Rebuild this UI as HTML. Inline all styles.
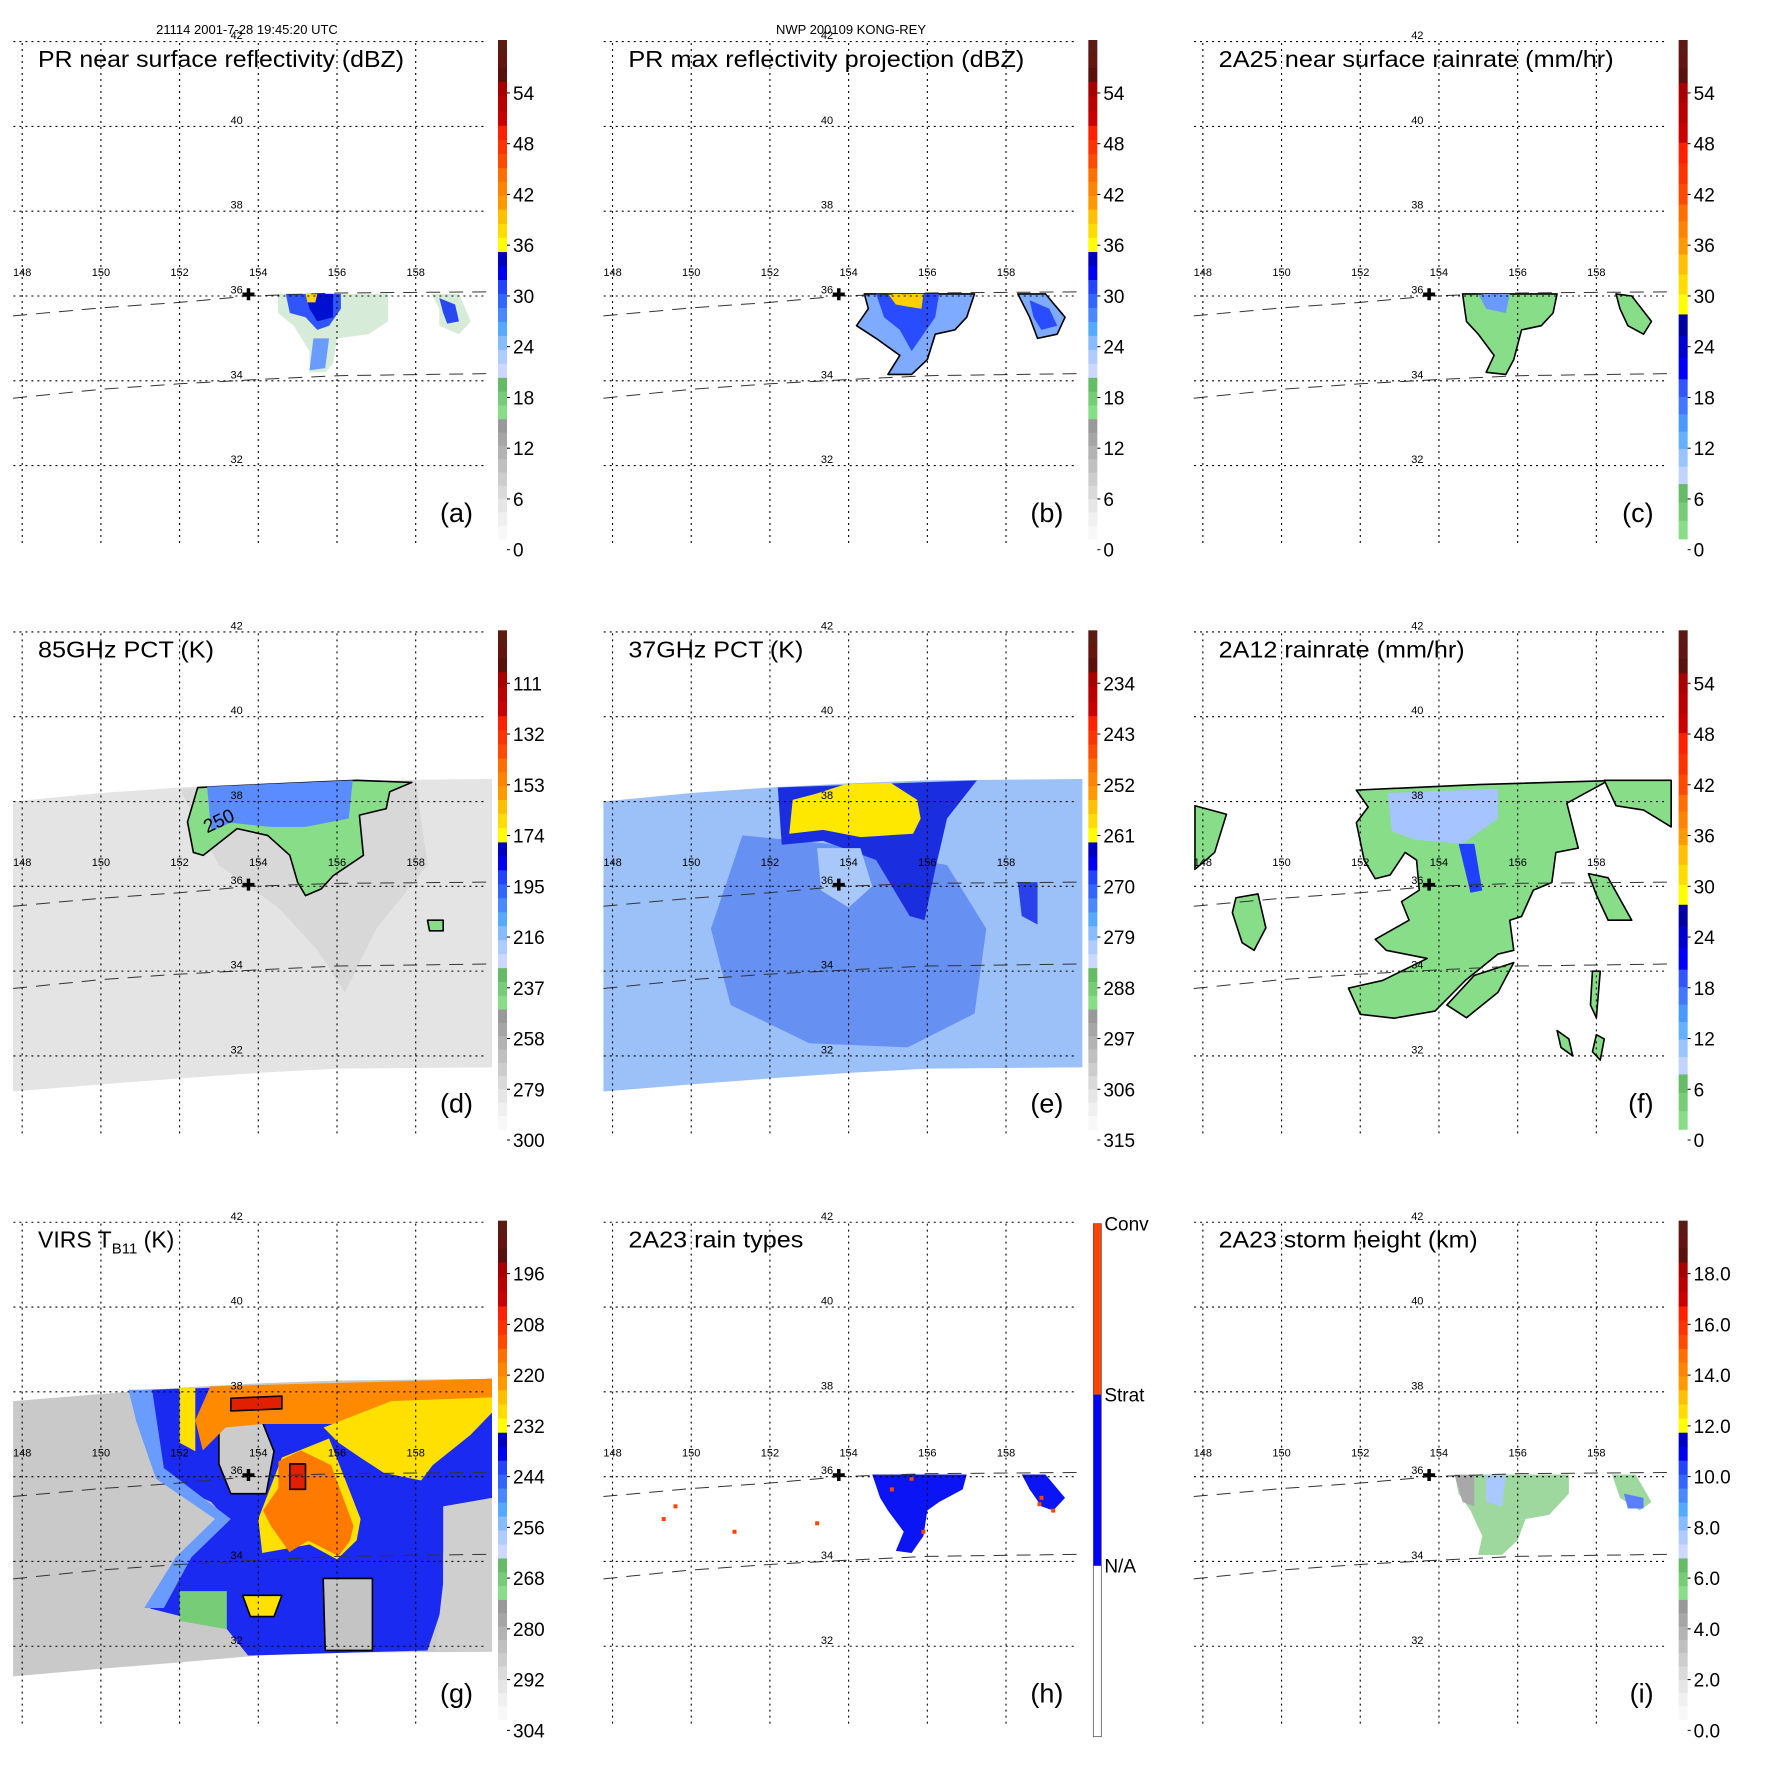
<!DOCTYPE html>
<html><head><meta charset="utf-8"><style>
html,body{margin:0;padding:0;background:#fff;}
svg{display:block;font-family:"Liberation Sans",Arial,sans-serif;}
</style></head>
<body>
<svg id="fig" xmlns="http://www.w3.org/2000/svg" width="1771" height="1771" viewBox="0 0 1771 1771">
<rect x="0" y="0" width="1771" height="1771" fill="#fff"/>
<text x="247" y="34" font-size="13" text-anchor="middle">21114 2001-7-28 19:45:20 UTC</text>
<text x="851" y="34" font-size="13" text-anchor="middle">NWP 200109 KONG-REY</text>
</svg>
<script>
// ---------- axis data ----------
const lonTicks = [148,150,152,154,156,158];
const latTicks = [32,34,36,38,40,42];
const cbarLabelsA = ["0","6","12","18","24","30","36","42","48","54"];
const cbarLabelsD = ["300","279","258","237","216","195","174","153","132","111"];
const cbarLabelsE = ["315","306","297","288","279","270","261","252","243","234"];
const cbarLabelsG = ["304","292","280","268","256","244","232","220","208","196"];
const cbarLabelsI = ["0.0","2.0","4.0","6.0","8.0","10.0","12.0","14.0","16.0","18.0"];
const rainTypeLabels = ["Conv","Strat","N/A"];
const stormCenter = [153.75,36.04];
const swathTopPR = [[147.77,35.53],[150,35.72],[152,35.85],[153.8,36.0],[156,36.07],[159.94,36.1]];
const swathBotPR = [[147.77,33.59],[150,33.8],[152,33.93],[154,34.03],[156,34.12],[159.94,34.17]];
const swathTMI = [[147.77,38.0],[150,38.2],[152,38.33],[154,38.43],[156,38.5],[159.94,38.53],[159.94,31.73],[156,31.7],[154,31.6],[152,31.47],[150,31.33],[147.77,31.16]];
const swathVIRS = [[147.77,37.78],[150,37.95],[152,38.1],[154,38.2],[156,38.27],[159.94,38.31],[159.94,31.87],[156,31.85],[154,31.78],[152,31.62],[150,31.47],[147.77,31.29]];

// ---------- feature data (lon/lat polygons) ----------
const aOuter = [[154.5,36.05],[157.3,36.05],[157.3,35.4],[156.8,35.1],[156.0,35.0],[155.9,34.4],[155.7,34.2],[155.3,34.2],[155.3,34.7],[154.9,35.3],[154.5,35.6]];
const aCore = [[154.7,36.05],[156.1,36.05],[156.1,35.7],[155.8,35.3],[155.5,35.2],[155.2,35.5],[154.8,35.6]];
const aDark = [[155.2,36.05],[155.9,36.05],[155.9,35.5],[155.5,35.4],[155.3,35.7]];
const aTail = [[155.4,35.0],[155.8,35.0],[155.7,34.3],[155.3,34.25]];
const aYellow = [[155.2,36.05],[155.5,36.05],[155.45,35.85],[155.25,35.85]];
const aOuter2 = [[158.4,36.05],[159.1,36.05],[159.4,35.4],[159.1,35.1],[158.6,35.3],[158.6,35.7]];
const aCore2 = [[158.6,35.95],[159.0,35.8],[159.1,35.4],[158.8,35.35],[158.7,35.6]];

const bOuter = [[154.4,36.05],[157.2,36.05],[157.0,35.5],[156.7,35.2],[156.2,35.1],[156.0,34.5],[155.6,34.15],[155.0,34.15],[155.3,34.6],[154.7,35.0],[154.2,35.3],[154.5,35.7]];
const bCore = [[154.7,36.05],[156.3,36.05],[156.2,35.5],[155.9,35.1],[155.6,34.7],[155.3,35.2],[154.9,35.5]];
const bYellow = [[155.0,36.05],[155.9,36.05],[155.85,35.7],[155.5,35.75],[155.2,35.8]];
const bOuter2 = [[158.3,36.05],[159.0,36.05],[159.5,35.5],[159.3,35.1],[158.8,35.0],[158.6,35.5]];
const bCore2 = [[158.6,35.9],[159.1,35.7],[159.3,35.3],[158.9,35.2],[158.7,35.5]];

const cOuter = [[154.6,36.05],[157.0,36.05],[156.9,35.6],[156.6,35.3],[156.1,35.2],[155.9,34.5],[155.7,34.15],[155.2,34.2],[155.4,34.6],[155.0,35.1],[154.7,35.4]];
const cBlue = [[155.0,36.05],[155.8,36.05],[155.7,35.6],[155.2,35.7]];
const cOuter2 = [[158.5,36.05],[158.9,36.0],[159.4,35.4],[159.2,35.1],[158.8,35.3],[158.6,35.7]];

const dStormGray = [[152.0,38.3],[158.0,38.5],[158.3,36.5],[157.0,35.0],[156.2,33.5],[155.5,34.5],[154.5,35.5],[153.0,36.5]];
const dGreen = [[152.46,38.33],[156.5,38.5],[157.9,38.45],[157.34,38.23],[157.25,37.83],[156.57,37.68],[156.67,36.73],[155.9,36.25],[155.6,35.94],[155.2,35.78],[155.0,36.1],[154.8,36.73],[154.24,37.2],[153.46,37.36],[152.6,36.73],[152.35,36.8],[152.2,37.52]];
const dBlue = [[152.7,38.35],[156.4,38.5],[156.3,37.6],[155.2,37.4],[154.3,37.4],[153.3,37.5],[152.8,37.3]];
const dBlob = [[158.3,35.2],[158.7,35.2],[158.7,34.95],[158.35,34.95]];

const eMid = [[151.3,37.2],[153.5,37.0],[156.5,36.5],[157.5,35.0],[157.2,33.0],[155.5,32.2],[153.0,32.3],[151.0,33.2],[150.5,35.0]];
const eDark = [[152.2,38.33],[157.26,38.5],[156.5,37.6],[156.2,36.4],[155.93,35.2],[155.55,35.3],[154.7,36.62],[153.35,37.07],[152.3,36.98]];
const eYellow = [[152.49,37.24],[152.58,38.04],[153.16,38.18],[153.9,38.4],[155.07,38.44],[155.74,38.04],[155.83,37.6],[155.64,37.24],[154.3,37.16],[153.35,37.33]];
const eEye = [[153.2,36.9],[154.3,36.9],[154.6,36.0],[154.0,35.5],[153.3,35.9]];
const eBlob = [[158.3,36.1],[158.8,36.1],[158.8,35.1],[158.4,35.3]];

const fMain = [[151.9,38.27],[155.0,38.4],[158.3,38.49],[157.25,37.96],[157.54,36.9],[156.97,36.8],[156.87,36.09],[156.4,35.91],[156.1,35.29],[155.8,35.2],[155.9,34.49],[155.5,34.4],[154.67,33.78],[153.9,33.06],[152.86,32.89],[152.0,32.98],[151.7,33.6],[152.57,33.78],[153.7,34.3],[152.66,34.49],[152.38,34.75],[153.24,35.2],[153.05,35.64],[153.5,35.91],[153.43,36.62],[153.14,36.8],[152.76,36.27],[152.38,36.18],[152.1,36.62],[151.9,37.5],[152.2,37.87]];
const fLeft = [[148.84,35.73],[149.4,35.82],[149.6,35.02],[149.3,34.49],[149.0,34.67],[148.75,35.38]];
const fTopLeft = [[147.8,37.9],[148.6,37.7],[148.3,36.8],[147.8,36.4]];
const fRight = [[157.8,36.3],[158.3,36.2],[158.9,35.2],[158.3,35.2],[158.0,35.8]];
const fTopRight = [[158.2,38.5],[159.9,38.5],[159.9,37.4],[159.2,37.8],[158.5,37.9]];
const fBlue = [[152.7,38.2],[155.5,38.3],[155.5,37.6],[154.6,37.0],[153.4,37.1],[152.8,37.3]];
const fStreak = [[154.5,37.0],[154.9,37.0],[155.1,35.9],[154.8,35.85]];
const fArm = [[154.9,33.9],[155.9,34.2],[155.5,33.5],[154.7,32.9],[154.2,33.2]];
const fStreakS1 = [[157.9,34.0],[158.1,34.0],[158.0,32.9],[157.85,33.2]];
const fStreakS2 = [[157.0,32.6],[157.3,32.4],[157.4,32.0],[157.1,32.2]];
const fStreakS3 = [[158.0,32.5],[158.2,32.4],[158.1,31.9],[157.9,32.1]];

const gColor = [[150.87,38.04],[159.94,38.31],[159.94,35.5],[159.4,35.4],[158.7,34.2],[158.7,33.0],[158.3,31.9],[153.74,31.78],[153.17,32.44],[151.25,32.89],[152.0,34.13],[153.17,35.02],[152.8,35.4],[151.64,35.91],[151.1,37.3]];
const gFringe = [[150.7,38.05],[151.3,38.05],[151.6,36.2],[153.3,35.0],[152.3,34.1],[151.6,32.9],[151.1,32.9],[151.9,34.1],[152.9,35.0],[151.4,35.95],[150.9,37.3]];
const gHole = [[153.0,37.2],[154.1,37.3],[154.4,36.6],[154.2,35.6],[153.3,35.6],[153.0,36.3]];
const gGrayBR = [[155.65,33.6],[156.9,33.6],[156.9,31.9],[155.7,31.9]];
const gGrayBR2 = [[158.7,35.3],[159.94,35.5],[159.94,31.9],[158.5,31.9],[158.7,33.5]];
const gOrange = [[152.78,38.13],[159.94,38.31],[159.94,37.87],[157.95,37.69],[156.04,37.24],[154.89,37.24],[154.12,37.24],[153.17,37.16],[152.59,36.62],[152.4,37.33]];
const gYellowR = [[157.38,37.78],[159.94,37.87],[159.94,37.51],[159.39,36.98],[158.43,36.27],[158.14,35.91],[157.19,36.09],[156.61,36.44],[156.04,36.8],[155.66,37.16]];
const gYellowC = [[154.6,36.45],[155.8,36.9],[156.6,35.0],[156.5,34.5],[156.0,34.05],[155.3,34.4],[154.1,34.2],[154.0,35.0]];
const gOrangeC = [[154.51,36.36],[155.08,36.62],[155.85,36.27],[156.42,34.84],[156.33,34.49],[156.04,34.13],[155.27,34.49],[154.79,34.22],[154.32,34.84],[154.12,35.2],[154.51,35.73]];
const gRed1 = [[153.3,37.85],[154.6,37.9],[154.6,37.6],[153.3,37.55]];
const gRed2 = [[154.8,36.3],[155.2,36.3],[155.2,35.7],[154.8,35.7]];
const gYellowS = [[152.0,38.1],[152.4,38.1],[152.4,36.6],[152.0,36.8]];
const gYellowB = [[153.6,33.2],[154.6,33.2],[154.4,32.7],[153.8,32.7]];
const gGreen = [[152.0,33.3],[153.2,33.3],[153.2,32.4],[152.0,32.6]];

const hStrat = [[154.6,36.05],[157.0,36.05],[156.9,35.7],[156.3,35.4],[156.0,35.2],[155.9,34.6],[155.6,34.2],[155.2,34.25],[155.4,34.7],[155.0,35.2],[154.8,35.5]];
const hStrat2 = [[158.4,36.05],[159.0,36.05],[159.5,35.5],[159.2,35.2],[158.9,35.3],[158.6,35.7]];
const hConvDots = [[155.6,35.95],[155.1,35.7],[155.9,34.7],[158.9,35.5],[158.85,35.35],[149.6,35.3],[149.3,35.0],[151.1,34.7],[153.2,34.9],[159.2,35.2]];

const iOuter = [[154.4,36.05],[157.3,36.05],[157.3,35.6],[156.8,35.1],[156.2,35.0],[156.0,34.5],[155.6,34.15],[155.0,34.15],[155.1,34.6],[154.8,35.2],[154.5,35.6]];
const iGray = [[154.4,36.05],[154.9,36.05],[154.9,35.3],[154.6,35.4]];
const iBlue = [[155.2,36.05],[155.7,36.05],[155.6,35.3],[155.2,35.4]];
const iOuter2 = [[158.4,36.05],[159.0,36.05],[159.4,35.4],[159.1,35.2],[158.6,35.5]];
const iBlue2 = [[158.7,35.6],[159.2,35.5],[159.2,35.25],[158.8,35.25]];

// ---------- scales ----------
const SVGNS = "http://www.w3.org/2000/svg";
const PANEL = 590.33;
function X(lon){ return 22.2 + (lon-148)*39.35; }
function Y(lat){ return 465.6 - (lat-32)*42.4; }
function pts(arr){ return arr.map(p => X(p[0]).toFixed(1)+","+Y(p[1]).toFixed(1)).join(" "); }
function mk(tag, parent){ const e=document.createElementNS(SVGNS,tag); parent.appendChild(e); return e; }
function poly(g, arr, fill, stroke, name){
  const p = mk("polygon", g);
  p.setAttribute("points", pts(arr));
  p.setAttribute("fill", fill);
  if (stroke){ p.setAttribute("stroke", stroke); p.setAttribute("stroke-width", "1.6"); p.setAttribute("stroke-linejoin","round"); }
  
  
  return p;
}
function line(g, arr, dash, name){
  const p = mk("polyline", g);
  p.setAttribute("points", pts(arr));
  p.setAttribute("fill","none"); p.setAttribute("stroke","#333"); p.setAttribute("stroke-width","1");
  p.setAttribute("stroke-dasharray", dash);
  
  
}

const bandsStd = [[0,0.084,["#5c1a12","#651510","#5a100c"]],[0.084,0.172,["#a80000","#b80000","#c80000"]],[0.172,0.257,["#ff2000","#ff3300","#ff4a00"]],[0.257,0.34,["#ff7000","#ff8500","#ff9900"]],[0.34,0.425,["#ffc000","#ffdd00","#ffff00"]],[0.425,0.677,["#0000c0","#0000f0","#2244ff","#3366ff","#4a88ff","#55aaff","#88bbff","#b0ccff","#ccd8ff"]],[0.677,0.76,["#66bb66","#77cc77","#88dd88"]],[0.76,1,["#999","#a6a6a6","#b3b3b3","#c0c0c0","#cdcdcd","#dadada","#e6e6e6","#f0f0f0","#f8f8f8"]]];
const bandsRain = [[0,0.086,["#5c1a12","#651510","#5a100c"]],[0.086,0.206,["#a80000","#b80000","#c80000"]],[0.206,0.33,["#ff2000","#ff3300","#ff4a00"]],[0.33,0.43,["#ff7000","#ff8500","#ff9900"]],[0.43,0.55,["#ffc000","#ffdd00","#ffff00"]],[0.55,0.68,["#0000a0","#0000d0","#0000ff"]],[0.68,0.89,["#3355ff","#4477ff","#4a99ff","#66b0ff","#99c4ff","#c0d4ff"]],[0.89,1,["#66bb66","#77cc77","#88dd88"]]];

function colorbar(g, bands, labels, pid){
  const bx=498, bw=9, top=40, bot=539;
  const cb = mk("g", g);
  
  
  bands.forEach(b=>{
    const n=b[2].length, h=(b[1]-b[0])*(bot-top);
    b[2].forEach((c,i)=>{
      const r=mk("rect",cb);
      r.setAttribute("x",bx); r.setAttribute("y",(top+b[0]*(bot-top)+i*h/n).toFixed(2));
      r.setAttribute("width",bw); r.setAttribute("height",(h/n+0.4).toFixed(2)); r.setAttribute("fill",c);
    });
  });
  labels.forEach((t,k)=>{
    const yy = 549.7 - k*50.75;
    const tk=mk("line",cb); tk.setAttribute("x1",bx+bw); tk.setAttribute("x2",bx+bw+3); tk.setAttribute("y1",yy); tk.setAttribute("y2",yy); tk.setAttribute("stroke","#000");
    const tx=mk("text",cb); tx.setAttribute("x",513); tx.setAttribute("y",yy+7); tx.setAttribute("font-size","19"); tx.textContent=t;
    
    
  });
}
function typebar(g){
  const cb=mk("g",g);
  
  
  const top=43, step=171, cols=["#ff4400","#0000ff","#ffffff"];
  cols.forEach((c,i)=>{ const r=mk("rect",cb); r.setAttribute("x",503); r.setAttribute("y",top+i*step); r.setAttribute("width",8); r.setAttribute("height",step); r.setAttribute("fill",c); r.setAttribute("stroke","#555"); r.setAttribute("stroke-width","0.8"); });
  rainTypeLabels.forEach((t,i)=>{ const tx=mk("text",cb); tx.setAttribute("x",514); tx.setAttribute("y",top+i*step+7); tx.setAttribute("font-size","19"); tx.textContent=t;
    
     });
}

function panel(col,row,pid,title,draw,bar,titleW){
  const g = mk("g", document.getElementById("fig"));
  g.setAttribute("transform","translate("+(col*PANEL).toFixed(2)+","+(row*PANEL).toFixed(2)+")");
  
  
  draw(g);
  line(g, swathTopPR, "14,9", "pr-swath-edge-top");
  line(g, swathBotPR, "14,9", "pr-swath-edge-bottom");
  const gr=mk("g",g);
  
  
  latTicks.forEach(la=>{ const l=mk("line",gr); l.setAttribute("x1",13.4); l.setAttribute("x2",486); l.setAttribute("y1",Y(la)); l.setAttribute("y2",Y(la)); l.setAttribute("stroke","#000"); l.setAttribute("stroke-width","1.1"); l.setAttribute("stroke-dasharray","2,4");
    const t=mk("text",gr); t.setAttribute("x",X(153.45)); t.setAttribute("y",Y(la)-2.5); t.setAttribute("font-size","11"); t.setAttribute("text-anchor","middle"); t.textContent=la; });
  lonTicks.forEach(lo=>{ const l=mk("line",gr); l.setAttribute("x1",X(lo)); l.setAttribute("x2",X(lo)); l.setAttribute("y1",43); l.setAttribute("y2",547); l.setAttribute("stroke","#000"); l.setAttribute("stroke-width","1.1"); l.setAttribute("stroke-dasharray","2,4");
    const t=mk("text",gr); t.setAttribute("x",X(lo)); t.setAttribute("y",Y(36.57)+4); t.setAttribute("font-size","11"); t.setAttribute("text-anchor","middle"); t.textContent=lo; });
  const cx=X(stormCenter[0]), cy=Y(stormCenter[1]);
  const cr=mk("path",g); cr.setAttribute("d","M"+(cx-6)+","+cy+"H"+(cx+6)+"M"+cx+","+(cy-6)+"V"+(cy+6)); cr.setAttribute("stroke","#000"); cr.setAttribute("stroke-width","3.5");
  
  
  const tt=mk("text",g); tt.setAttribute("x",38); tt.setAttribute("y",67); tt.setAttribute("font-size","23");
  if (pid==="g"){ tt.innerHTML='VIRS T<tspan font-size="15" dy="6">B11</tspan><tspan dy="-6"> (K)</tspan>'; }
  else { tt.textContent=title; tt.setAttribute("textLength",titleW); tt.setAttribute("lengthAdjust","spacingAndGlyphs"); }
  
  
  const lb=mk("text",g); lb.setAttribute("x",473); lb.setAttribute("y",522); lb.setAttribute("font-size","27"); lb.setAttribute("text-anchor","end"); lb.textContent="("+pid+")";
  
  
  bar(g);
}

panel(0,0,"a","PR near surface reflectivity (dBZ)",g=>{
  poly(g,aOuter,"#d6ebd8",null,"rain-echo-fringe");
  poly(g,aTail,"#6a9cff",null,"rain-echo-tail");
  poly(g,aCore,"#3055ff",null,"rain-echo-core");
  poly(g,aDark,"#0010d0",null,"rain-echo-strong");
  poly(g,aYellow,"#ffd700",null,"rain-echo-peak");
  poly(g,aOuter2,"#d6ebd8",null,"rain-echo-fringe-east");
  poly(g,aCore2,"#2a48f0",null,"rain-echo-core-east");
},g=>colorbar(g,bandsStd,cbarLabelsA,"a"),366);

panel(1,0,"b","PR max reflectivity projection (dBZ)",g=>{
  poly(g,bOuter,"#7eaaff","#000","max-echo-region");
  poly(g,bCore,"#2a4cff",null,"max-echo-core");
  poly(g,bYellow,"#ffd000",null,"max-echo-peak");
  poly(g,bOuter2,"#7eaaff","#000","max-echo-region-east");
  poly(g,bCore2,"#2a4cff",null,"max-echo-core-east");
},g=>colorbar(g,bandsStd,cbarLabelsA,"b"),396);

panel(2,0,"c","2A25 near surface rainrate (mm/hr)",g=>{
  poly(g,cOuter,"#88dd88","#000","rainrate-region");
  poly(g,cBlue,"#6a9aff",null,"rainrate-heavy");
  poly(g,cOuter2,"#88dd88","#000","rainrate-region-east");
},g=>colorbar(g,bandsRain,cbarLabelsA,"c"),395);

panel(0,1,"d","85GHz PCT (K)",g=>{
  poly(g,swathTMI,"#e4e4e4",null,"tmi-swath");
  poly(g,dStormGray,"#d8d8d8",null,"pct85-warm-cloud");
  poly(g,dGreen,"#88dd88","#000","pct85-contour-250");
  poly(g,dBlue,"#5a8cff",null,"pct85-ice-scattering");
  poly(g,dBlob,"#88dd88","#000","pct85-small-cell");
  const t=mk("text",g); t.setAttribute("x",X(152.7)); t.setAttribute("y",Y(37.25)); t.setAttribute("font-size","19"); t.setAttribute("transform","rotate(-25 "+X(152.7)+" "+Y(37.25)+")"); t.textContent="250";
  
  
},g=>colorbar(g,bandsStd,cbarLabelsD,"d"),176);

panel(1,1,"e","37GHz PCT (K)",g=>{
  poly(g,swathTMI,"#9cc0f8",null,"tmi-swath");
  poly(g,eMid,"#6690f2",null,"pct37-rainband");
  poly(g,eDark,"#1a2ee0",null,"pct37-eyewall");
  poly(g,eYellow,"#ffe800",null,"pct37-cold-region");
  poly(g,eEye,"#a8c8fa",null,"pct37-eye");
  poly(g,eBlob,"#2a40e8",null,"pct37-east-cell");
},g=>colorbar(g,bandsStd,cbarLabelsE,"e"),175);

panel(2,1,"f","2A12 rainrate (mm/hr)",g=>{
  poly(g,fMain,"#88dd88","#000","tmi-rain-region");
  poly(g,fArm,"#88dd88","#000","tmi-rain-arm");
  poly(g,fBlue,"#a6c4ff",null,"tmi-rain-moderate");
  poly(g,fStreak,"#2040ff",null,"tmi-rain-heavy");
  poly(g,fLeft,"#88dd88","#000","tmi-rain-west");
  poly(g,fTopLeft,"#88dd88","#000","tmi-rain-northwest");
  poly(g,fRight,"#88dd88","#000","tmi-rain-east");
  poly(g,fTopRight,"#88dd88","#000","tmi-rain-northeast");
  poly(g,fStreakS1,"#88dd88","#000","tmi-rain-streak");
  poly(g,fStreakS2,"#88dd88","#000","tmi-rain-streak");
  poly(g,fStreakS3,"#88dd88","#000","tmi-rain-streak");
},g=>colorbar(g,bandsRain,cbarLabelsA,"f"),246);

panel(0,2,"g","VIRS",g=>{
  poly(g,swathVIRS,"#c9c9c9",null,"virs-swath");
  poly(g,gColor,"#1a2af0",null,"virs-cold-cloud");
  poly(g,gFringe,"#6a9cff",null,"virs-cloud-fringe");
  poly(g,gHole,"#cccccc","#000","virs-warm-gap");
  poly(g,gGrayBR,"#c4c4c4","#000","virs-warm-gap-south");
  poly(g,gGrayBR2,"#cfcfcf",null,"virs-warm-east");
  poly(g,gGreen,"#77cc77",null,"virs-low-cloud");
  poly(g,gOrange,"#ff8a00",null,"virs-cloud-top-north");
  poly(g,gYellowR,"#ffe000",null,"virs-cloud-top-east");
  poly(g,gYellowS,"#ffe000",null,"virs-cloud-strip");
  poly(g,gYellowC,"#ffe000",null,"virs-cloud-core-edge");
  poly(g,gOrangeC,"#ff7a00",null,"virs-cloud-core");
  poly(g,gRed1,"#e02000","#000","virs-coldest-north");
  poly(g,gRed2,"#e02000","#000","virs-coldest-core");
  poly(g,gYellowB,"#ffe000","#000","virs-cell-south");
},g=>colorbar(g,bandsStd,cbarLabelsG,"g"),148);

panel(1,2,"h","2A23 rain types",g=>{
  poly(g,hStrat,"#0a14f5",null,"stratiform-rain");
  poly(g,hStrat2,"#0a14f5",null,"stratiform-rain-east");
  hConvDots.forEach(p=>{ const r=mk("rect",g); r.setAttribute("x",X(p[0])-2); r.setAttribute("y",Y(p[1])-2); r.setAttribute("width",4); r.setAttribute("height",4); r.setAttribute("fill","#ff4400");
    
     });
},g=>typebar(g),175);

panel(2,2,"i","2A23 storm height (km)",g=>{
  poly(g,iOuter,"#9fd89f",null,"storm-height-region");
  poly(g,iGray,"#a8a8a8",null,"storm-height-low");
  poly(g,iBlue,"#a8c8ff",null,"storm-height-high");
  poly(g,iOuter2,"#9fd89f",null,"storm-height-region-east");
  poly(g,iBlue2,"#5a80ff",null,"storm-height-high-east");
},g=>colorbar(g,bandsStd,cbarLabelsI,"i"),259);
</script>
</body></html>
